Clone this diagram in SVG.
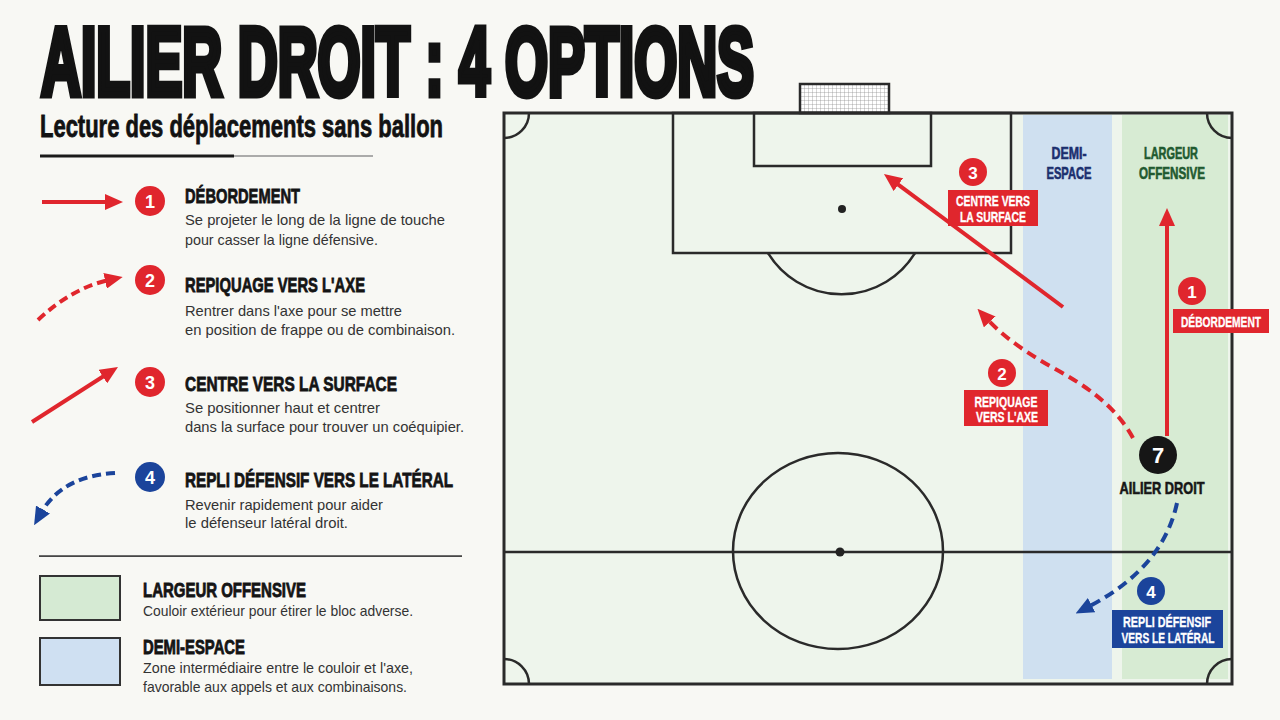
<svg xmlns="http://www.w3.org/2000/svg" width="1280" height="720" viewBox="0 0 1280 720">
<defs>
<style>
.bg{fill:#f8f8f4}
.ttl{font-family:"Liberation Sans",Arial,sans-serif;font-weight:700;fill:#121212;stroke:#121212;stroke-linejoin:miter}
.hd{font-family:"Liberation Sans",Arial,sans-serif;font-weight:700;font-size:21px;fill:#141414;stroke:#141414;stroke-width:0.8}
.hz{font-family:"Liberation Sans",Arial,sans-serif;font-weight:700;font-size:19.5px;fill:#141414;stroke:#141414;stroke-width:0.8}
.ds{font-family:"Liberation Sans",Arial,sans-serif;font-size:15px;fill:#333}
.num{font-family:"Liberation Sans",Arial,sans-serif;font-weight:700;fill:#fff;text-anchor:middle}
.pl{fill:none;stroke:#2a2a2a;stroke-width:2.5}
.red{fill:#e0262d}
.blue{fill:#1b449b}
.box{font-family:"Liberation Sans",Arial,sans-serif;font-weight:700;font-size:14px;fill:#fff;stroke:#fff;stroke-width:0.3;text-anchor:middle}
.zl{font-family:"Liberation Sans",Arial,sans-serif;font-weight:700;font-size:16.5px;text-anchor:middle;stroke-width:0.6}
.ar{fill:none;stroke:#e0262d;stroke-width:4}
.ab{fill:none;stroke:#1b449b;stroke-width:4}
</style>
<marker id="hr" viewBox="0 0 18 16" markerUnits="userSpaceOnUse" markerWidth="18" markerHeight="16" refX="4" refY="8" orient="auto"><path d="M0,0 L18,8 L0,16 Z" fill="#e0262d"/></marker>
<marker id="hb" viewBox="0 0 18 16" markerUnits="userSpaceOnUse" markerWidth="18" markerHeight="16" refX="4" refY="8" orient="auto"><path d="M0,0 L18,8 L0,16 Z" fill="#1b449b"/></marker>
<pattern id="net" width="4" height="4" patternUnits="userSpaceOnUse"><path d="M0,0 H4 M0,0 V4" stroke="#8a8a8a" stroke-width="0.7" fill="none"/></pattern>
</defs>
<rect class="bg" x="0" y="0" width="1280" height="720"/>

<g id="header">
<text class="ttl" x="41" y="94.5" font-size="96" stroke-width="7" textLength="713" lengthAdjust="spacingAndGlyphs">AILIER DROIT : 4 OPTIONS</text>
<text class="ttl" x="40" y="137" font-size="31" stroke-width="0.8" fill="#1c1c1c" textLength="403" lengthAdjust="spacingAndGlyphs">Lecture des déplacements sans ballon</text>
<rect x="40" y="154.5" width="194" height="3" fill="#1a1a1a"/>
<rect x="234" y="155.3" width="139" height="1.4" fill="#8a8a8a"/>
</g>

<g id="legend-1">
<path class="ar" d="M42,202 L109,202" marker-end="url(#hr)"/>
<circle class="red" cx="150" cy="201" r="15"/>
<text class="num" x="150" y="207.5" font-size="18">1</text>
<text class="hd" x="185" y="203" textLength="115" lengthAdjust="spacingAndGlyphs">DÉBORDEMENT</text>
<text class="ds" x="185" y="225" textLength="260" lengthAdjust="spacingAndGlyphs">Se projeter le long de la ligne de touche</text>
<text class="ds" x="185" y="245" textLength="193" lengthAdjust="spacingAndGlyphs">pour casser la ligne défensive.</text>
</g>
<g id="legend-2">
<path class="ar" d="M38,320 Q72,288 109,280" stroke-dasharray="9,5" marker-end="url(#hr)"/>
<circle class="red" cx="150" cy="280" r="15"/>
<text class="num" x="150" y="286.5" font-size="18">2</text>
<text class="hd" x="185" y="292" textLength="180" lengthAdjust="spacingAndGlyphs">REPIQUAGE VERS L'AXE</text>
<text class="ds" x="185" y="316" textLength="217" lengthAdjust="spacingAndGlyphs">Rentrer dans l'axe pour se mettre</text>
<text class="ds" x="185" y="335" textLength="270" lengthAdjust="spacingAndGlyphs">en position de frappe ou de combinaison.</text>
</g>
<g id="legend-3">
<path class="ar" d="M32,422 L106.2,374.5" marker-end="url(#hr)"/>
<circle class="red" cx="150" cy="382" r="15"/>
<text class="num" x="150" y="388.5" font-size="18">3</text>
<text class="hd" x="185" y="391" textLength="212" lengthAdjust="spacingAndGlyphs">CENTRE VERS LA SURFACE</text>
<text class="ds" x="185" y="413" textLength="195" lengthAdjust="spacingAndGlyphs">Se positionner haut et centrer</text>
<text class="ds" x="185" y="432" textLength="279" lengthAdjust="spacingAndGlyphs">dans la surface pour trouver un coéquipier.</text>
</g>
<g id="legend-4">
<path class="ab" d="M115,473 Q62,476 41,513" stroke-dasharray="9,5" marker-end="url(#hb)"/>
<circle class="blue" cx="150" cy="477" r="15"/>
<text class="num" x="150" y="483.5" font-size="18">4</text>
<text class="hd" x="185" y="487" textLength="268" lengthAdjust="spacingAndGlyphs">REPLI DÉFENSIF VERS LE LATÉRAL</text>
<text class="ds" x="185" y="510" textLength="198" lengthAdjust="spacingAndGlyphs">Revenir rapidement pour aider</text>
<text class="ds" x="185" y="528" textLength="163" lengthAdjust="spacingAndGlyphs">le défenseur latéral droit.</text>
</g>

<g id="zone-legend">
<rect x="39" y="555.3" width="423" height="1.6" fill="#333"/>
<rect x="40" y="576" width="80" height="44" fill="#d5ead3" stroke="#333" stroke-width="2"/>
<text class="hz" x="143" y="597" textLength="163" lengthAdjust="spacingAndGlyphs">LARGEUR OFFENSIVE</text>
<text class="ds" x="143" y="616" textLength="270" lengthAdjust="spacingAndGlyphs">Couloir extérieur pour étirer le bloc adverse.</text>
<rect x="40" y="638" width="80" height="47" fill="#cfe0f2" stroke="#333" stroke-width="2"/>
<text class="hz" x="143" y="654" textLength="102" lengthAdjust="spacingAndGlyphs">DEMI-ESPACE</text>
<text class="ds" x="143" y="673" textLength="270" lengthAdjust="spacingAndGlyphs">Zone intermédiaire entre le couloir et l'axe,</text>
<text class="ds" x="143" y="692" textLength="264" lengthAdjust="spacingAndGlyphs">favorable aux appels et aux combinaisons.</text>
</g>

<g id="pitch">
<rect x="504" y="113" width="728" height="571" fill="#eef5ec"/>
<rect x="1023" y="115" width="89" height="564" fill="#cfe0f0"/>
<rect x="1122" y="115" width="106" height="564" fill="#d7ebd3"/>
<rect x="800" y="84" width="89" height="29" fill="#fff"/>
<rect x="800" y="84" width="89" height="29" fill="url(#net)" stroke="#2a2a2a" stroke-width="2.5"/>
<rect class="pl" x="673" y="113" width="338" height="140"/>
<rect class="pl" x="754" y="113" width="177" height="53"/>
<circle cx="842" cy="209" r="4" fill="#222"/>
<path class="pl" d="M768,253 A86,86 0 0 0 915,253"/>
<line class="pl" x1="504" y1="552" x2="1232" y2="552" stroke-width="2"/>
<ellipse class="pl" cx="838" cy="551" rx="105" ry="98"/>
<circle cx="840" cy="552" r="4.5" fill="#222"/>
<path class="pl" d="M504,138 A25,25 0 0 0 529,113"/>
<path class="pl" d="M1207,113 A25,25 0 0 0 1232,138"/>
<path class="pl" d="M504,659 A25,25 0 0 1 529,684"/>
<path class="pl" d="M1207,684 A25,25 0 0 1 1232,659"/>
<rect x="504" y="113" width="728" height="571" fill="none" stroke="#2a2a2a" stroke-width="3"/>
</g>

<g id="zone-labels">
<text class="zl" x="1069" y="159" fill="#1b2f6e" stroke="#1b2f6e" textLength="35" lengthAdjust="spacingAndGlyphs">DEMI-</text>
<text class="zl" x="1069" y="179" fill="#1b2f6e" stroke="#1b2f6e" textLength="45" lengthAdjust="spacingAndGlyphs">ESPACE</text>
<text class="zl" x="1171" y="159" fill="#1f5a30" stroke="#1f5a30" textLength="54" lengthAdjust="spacingAndGlyphs">LARGEUR</text>
<text class="zl" x="1172" y="179" fill="#1f5a30" stroke="#1f5a30" textLength="66" lengthAdjust="spacingAndGlyphs">OFFENSIVE</text>
</g>

<g id="connectors">
<path class="ar" d="M1167,436 L1167,222" marker-end="url(#hr)"/>
<path class="ar" d="M1063,307 L895.2,182.3" stroke-width="3.5" marker-end="url(#hr)"/>
<path class="ar" d="M1133,438 C1115,405 1085,385 1050,366 C1020,349 1000,333 987,319" stroke-dasharray="10,6" marker-end="url(#hr)"/>
<path class="ab" d="M1177,503 Q1163,568 1088,607" stroke-dasharray="10,6" marker-end="url(#hb)"/>
</g>

<g id="label-1">
<circle class="red" cx="1192" cy="291" r="14"/>
<text class="num" x="1192" y="297.5" font-size="17">1</text>
<rect class="red" x="1173" y="309" width="96" height="24"/>
<text class="box" x="1221" y="327" textLength="80" lengthAdjust="spacingAndGlyphs">DÉBORDEMENT</text>
</g>
<g id="label-3">
<circle class="red" cx="973" cy="172" r="14"/>
<text class="num" x="973" y="178.5" font-size="17">3</text>
<rect class="red" x="948" y="190" width="90" height="36"/>
<text class="box" x="993" y="206" textLength="74" lengthAdjust="spacingAndGlyphs">CENTRE VERS</text>
<text class="box" x="993" y="222" textLength="66" lengthAdjust="spacingAndGlyphs">LA SURFACE</text>
</g>
<g id="label-2">
<circle class="red" cx="1002" cy="373" r="14"/>
<text class="num" x="1002" y="379.5" font-size="17">2</text>
<rect class="red" x="964" y="390" width="84" height="36"/>
<text class="box" x="1006" y="407" textLength="63" lengthAdjust="spacingAndGlyphs">REPIQUAGE</text>
<text class="box" x="1007" y="422" textLength="62" lengthAdjust="spacingAndGlyphs">VERS L'AXE</text>
</g>
<g id="label-4">
<circle class="blue" cx="1151" cy="591" r="14"/>
<text class="num" x="1151" y="597.5" font-size="17">4</text>
<rect class="blue" x="1112" y="610" width="111" height="38"/>
<text class="box" x="1167" y="627" textLength="88" lengthAdjust="spacingAndGlyphs">REPLI DÉFENSIF</text>
<text class="box" x="1168" y="643" textLength="93" lengthAdjust="spacingAndGlyphs">VERS LE LATÉRAL</text>
</g>

<g id="player-7">
<circle cx="1158" cy="455" r="19" fill="#161616"/>
<text class="num" x="1158" y="463" font-size="22">7</text>
<text class="zl" x="1162" y="494" fill="#161616" stroke="#161616" textLength="85" lengthAdjust="spacingAndGlyphs">AILIER DROIT</text>
</g>
</svg>
